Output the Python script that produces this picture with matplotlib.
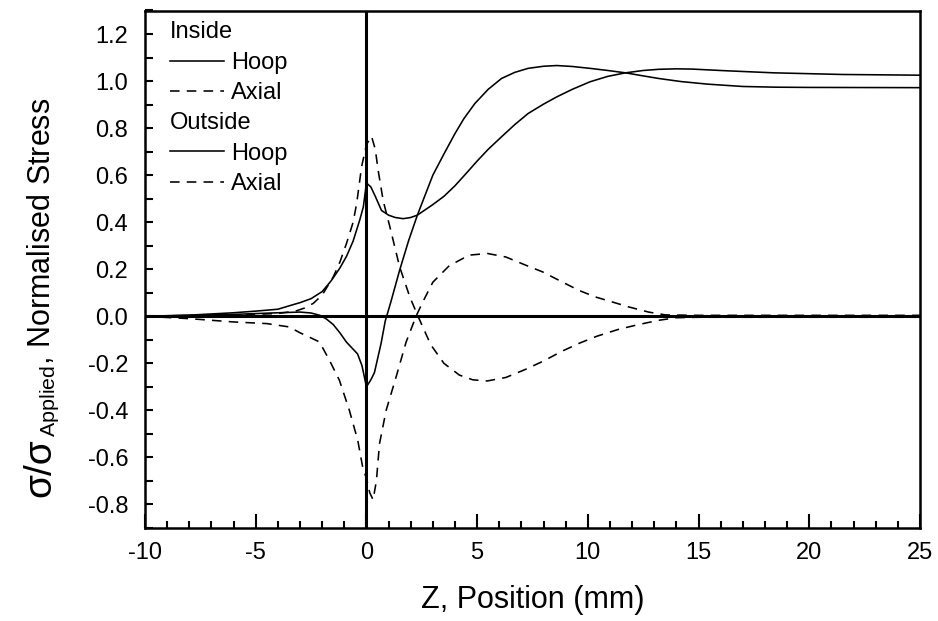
import matplotlib
matplotlib.use("Agg")
import matplotlib.pyplot as plt
from matplotlib.lines import Line2D
from matplotlib.ticker import MultipleLocator

plt.rcParams['font.family'] = ['Liberation Sans', 'DejaVu Sans']
plt.rcParams['mathtext.fontset'] = 'custom'
plt.rcParams['mathtext.rm'] = 'Liberation Sans'
plt.rcParams['mathtext.default'] = 'regular'
plt.rcParams['axes.unicode_minus'] = False

y_ticks = [-0.8, -0.6, -0.4, -0.2, 0.0, 0.2, 0.4, 0.6, 0.8, 1.0, 1.2]
y_tick_labels = ['-0.8', '-0.6', '-0.4', '-0.2', '0.0', '0.2', '0.4', '0.6', '0.8', '1.0', '1.2']

# Inside, hoop (solid, peak at z=0 then dip, settles ~1.02)
in_hoop_z = [-10, -8, -6, -5, -4, -3.4, -3, -2.5, -2, -1.6, -1.2, -0.9, -0.6, -0.3,
             -0.14, 0, 0.2, 0.4, 0.68, 1.0, 1.3, 1.66, 2.0, 2.3, 3.0, 3.5, 4.0, 4.5,
             5.0, 5.5, 6.1, 6.7, 7.3, 8.0, 8.6, 9.3, 10.1, 10.9, 11.7, 12.5, 13.2,
             14.0, 14.7, 16.2, 18.4, 21.5, 25]
in_hoop_s = [0.0, 0.005, 0.015, 0.022, 0.03, 0.047, 0.058, 0.075, 0.105, 0.15, 0.205,
             0.255, 0.32, 0.41, 0.465, 0.567, 0.55, 0.51, 0.45, 0.43, 0.42, 0.415,
             0.42, 0.43, 0.475, 0.51, 0.555, 0.607, 0.66, 0.71, 0.763, 0.815,
             0.862, 0.902, 0.933, 0.965, 0.997, 1.02, 1.035, 1.045, 1.05, 1.052,
             1.051, 1.044, 1.035, 1.028, 1.025]

# Inside, axial (dashed, +0.77 peak, -0.27 trough)
in_axial_z = [-10, -8, -6, -4, -3.2, -2.8, -2.4, -2.0, -1.5, -1.2, -0.9, -0.6, -0.44,
              -0.22, 0, 0.23, 0.4, 0.53, 0.76, 1.06, 1.5, 1.96, 2.33, 2.9, 3.5, 4.2,
              4.8, 5.45, 6.3, 7.2, 8.0, 8.8, 9.6, 10.4, 11.4, 12.3, 13.2, 14, 15,
              18, 21, 25]
in_axial_s = [0.0, 0.0, 0.005, 0.012, 0.022, 0.035, 0.055, 0.09, 0.167, 0.23, 0.31,
              0.4, 0.48, 0.635, 0.73, 0.765, 0.71, 0.62, 0.49, 0.38, 0.21, 0.082,
              0.0, -0.12, -0.2, -0.25, -0.27, -0.275, -0.26, -0.225, -0.19, -0.15,
              -0.115, -0.085, -0.055, -0.035, -0.017, -0.006, -0.004, -0.004,
              -0.004, -0.004]

# Outside, hoop (solid, dip to -0.3 at z=0, overshoot ~1.07)
out_hoop_z = [-10, -8, -6, -4, -3, -2.5, -2.1, -1.8, -1.5, -1.2, -0.9, -0.6, -0.4,
              -0.2, 0, 0.2, 0.36, 0.66, 0.85, 1.1, 1.5, 1.9, 2.3, 3.0, 3.5, 4.0, 4.4,
              4.9, 5.5, 6.1, 6.7, 7.3, 8.0, 8.6, 9.3, 10.1, 10.9, 11.7, 12.5, 13.2,
              14.2, 15.4, 17, 18.5, 20, 25]
out_hoop_s = [0.0, 0.004, 0.008, 0.015, 0.018, 0.014, 0.004, -0.012, -0.035, -0.07,
              -0.11, -0.14, -0.16, -0.21, -0.3, -0.27, -0.24, -0.116, -0.02, 0.06,
              0.196, 0.32, 0.43, 0.6, 0.69, 0.777, 0.84, 0.905, 0.965, 1.011, 1.037,
              1.054, 1.063, 1.066, 1.062, 1.054, 1.045, 1.035, 1.022, 1.011, 0.998,
              0.987, 0.977, 0.974, 0.973, 0.972]

# Outside, axial (dashed, -0.78 trough, +0.27 peak)
out_axial_z = [-10, -8, -6, -4.5, -3.5, -3.0, -2.12, -1.67, -1.22, -0.77, -0.39,
               -0.17, 0, 0.15, 0.3, 0.45, 0.59, 0.89, 1.34, 1.79, 2.24, 2.54, 3.0,
               3.74, 4.64, 5.47, 6.3, 7.2, 7.95, 8.84, 9.6, 10.35, 11.1, 11.84,
               12.74, 13.5, 15, 18, 21, 25]
out_axial_s = [0.0, -0.01, -0.024, -0.031, -0.045, -0.07, -0.109, -0.187, -0.272,
               -0.4, -0.528, -0.641, -0.69, -0.75, -0.78, -0.7, -0.542, -0.4,
               -0.258, -0.11, 0.0, 0.06, 0.145, 0.215, 0.26, 0.267, 0.252, 0.217,
               0.189, 0.146, 0.11, 0.082, 0.061, 0.04, 0.018, 0.006, 0.004, 0.004,
               0.004, 0.004]

W, H = 938, 621
fig = plt.figure(figsize=(W / 100, H / 100), dpi=100)
ax = fig.add_axes([145 / W, 1 - 528 / H, 775 / W, 517.5 / H])

lw = 1.15
dash = (0, (6, 4.5))
ax.axhline(0, color='black', lw=2.2, zorder=1)
ax.axvline(0, color='black', lw=2.2, zorder=1)
ax.plot(in_hoop_z, in_hoop_s, color='black', lw=lw)
ax.plot(in_axial_z, in_axial_s, color='black', lw=lw, linestyle=dash)
ax.plot(out_hoop_z, out_hoop_s, color='black', lw=lw)
ax.plot(out_axial_z, out_axial_s, color='black', lw=lw, linestyle=dash)

ax.set_xlim(-10, 25)
ax.set_ylim(-0.9, 1.3)
ax.xaxis.set_major_locator(MultipleLocator(5))
ax.xaxis.set_minor_locator(MultipleLocator(1))
ax.set_yticks(y_ticks)
ax.set_yticklabels(y_tick_labels)
ax.yaxis.set_minor_locator(MultipleLocator(0.1))

ax.tick_params(axis='x', which='major', direction='in', length=10, width=1.5,
               labelsize=17, pad=10, top=False)
ax.tick_params(axis='x', which='minor', direction='in', length=5, width=1.5, top=False)
ax.tick_params(axis='y', which='both', direction='in', length=6, width=1.5,
               labelsize=17, pad=12, right=False)
for s in ax.spines.values():
    s.set_linewidth(1.8)

ax.set_xlabel('Z, Position (mm)', fontsize=22, labelpad=15)

# y label in two pieces so the sigmas can be larger than the words
base_x = 50 / W
t1 = fig.text(base_x, 1 - 497 / H, 'σ/σ', fontsize=28, rotation=90,
              rotation_mode='anchor', ha='left', va='baseline')
fig.canvas.draw()
bb = t1.get_window_extent(fig.canvas.get_renderer())
fig.text(base_x, (bb.y1 + 1) / H, '${}_{Applied}$, Normalised Stress', fontsize=22,
         rotation=90, rotation_mode='anchor', ha='left', va='baseline')

blank = Line2D([], [], color='none')
handles = [blank,
           Line2D([], [], color='black', lw=lw),
           Line2D([], [], color='black', lw=lw, linestyle=dash),
           blank,
           Line2D([], [], color='black', lw=lw),
           Line2D([], [], color='black', lw=lw, linestyle=dash)]
labels = ['Inside', 'Hoop', 'Axial', 'Outside', 'Hoop', 'Axial']
leg = ax.legend(handles, labels, loc='upper left', frameon=False, fontsize=17,
                handlelength=2.3, handletextpad=0.3, labelspacing=0.35,
                borderpad=0, borderaxespad=0,
                bbox_to_anchor=(25 / 775, 1 - 11 / 517.5))
# header rows have no handle: pull their text to the left edge
rows = leg._legend_handle_box.get_children()[0].get_children()
for i in (0, 3):
    rows[i].get_children()[0].width = 0
    rows[i].sep = 0

fig.savefig('out.png', dpi=100)
